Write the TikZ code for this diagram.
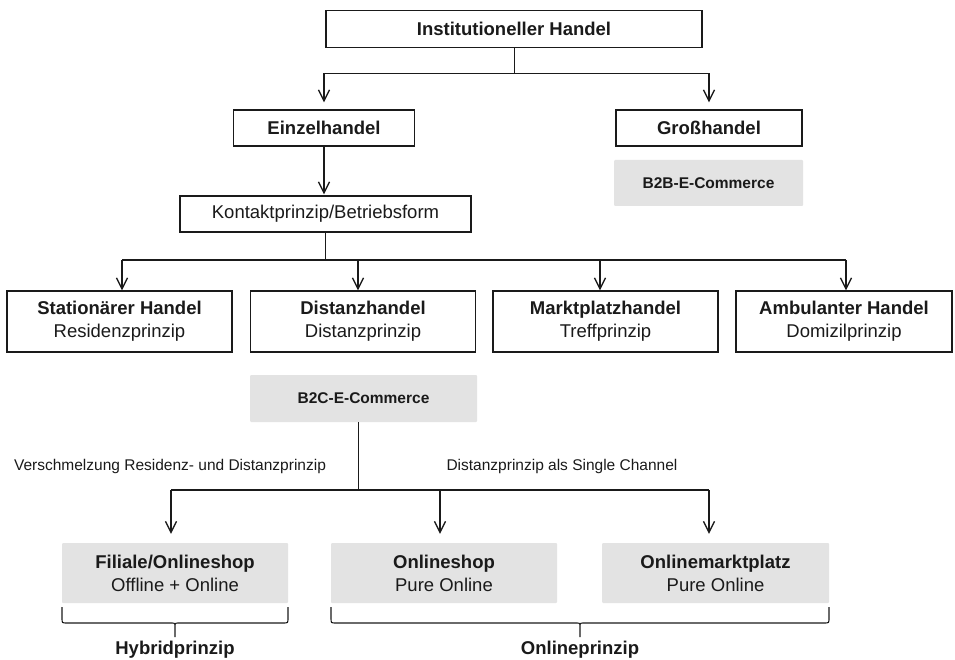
\documentclass[tikz,border=0pt]{standalone}
\usepackage{fontspec}
\setmainfont{Liberation Sans}
\usetikzlibrary{arrows.meta,calc}
\definecolor{boxgray}{HTML}{E3E3E3}
\definecolor{ink}{HTML}{1A1A1A}
\begin{document}
\begin{tikzpicture}[x=1pt,y=-1pt,
  every node/.style={text=ink},
  wbox/.style={draw=ink,line width=1.4pt,fill=white,inner sep=0pt,align=center,
    font=\fontsize{18.5}{23}\selectfont},
  gbox/.style={fill=boxgray,inner sep=0pt,align=center,rounded corners=1pt,
    font=\fontsize{18.5}{23}\selectfont},
  line/.style={draw=ink,line width=0.9pt},
  arr/.style={draw=ink,line width=1.5pt,-{Straight Barb[length=11pt,width=11pt,line width=1.3pt]}},
  lbl/.style={font=\fontsize{15.5}{18}\selectfont,inner sep=0pt},
  brace/.style={draw=ink,line width=1.1pt}
]
\useasboundingbox (0,0) rectangle (955,660);

% top level
\node[wbox,minimum width=376pt,minimum height=37pt] (inst) at (514,29) {\textbf{Institutioneller Handel}};
\node[wbox,minimum width=181pt,minimum height=36pt] (einzel) at (324,128) {\textbf{Einzelhandel}};
\node[wbox,minimum width=186pt,minimum height=36pt] (gross) at (709,128) {\textbf{Großhandel}};
\node[gbox,minimum width=189pt,minimum height=46pt,font=\fontsize{15.5}{18}\selectfont] (b2b) at (708.5,183) {\textbf{B2B-E-Commerce}};

\coordinate (j1) at ($(inst.south)+(0,25)$);
\coordinate (j1l) at (j1 -| einzel);
\coordinate (j1r) at (j1 -| gross);
\draw[line] (inst.south) -- (j1);
\draw[line] (j1l) -- (j1r);
\draw[arr,shorten >=7pt] (j1l) -- (einzel.north);
\draw[arr,shorten >=7pt] (j1r) -- (gross.north);

% contact principle
\node[wbox,minimum width=291pt,minimum height=36pt] (kontakt) at (325.5,214) {Kontaktprinzip/Betriebsform};
\draw[arr,shorten >=1pt] (einzel.south) -- (kontakt.north -| einzel.south);

% operating forms
\node[wbox,minimum width=225pt,minimum height=61pt] (stat) at (119.5,321.5) {\textbf{Stationärer Handel}\\Residenzprinzip};
\node[wbox,minimum width=225pt,minimum height=61pt] (dist) at (363,321.5) {\textbf{Distanzhandel}\\Distanzprinzip};
\node[wbox,minimum width=225pt,minimum height=61pt] (markt) at (605.5,321.5) {\textbf{Marktplatzhandel}\\Treffprinzip};
\node[wbox,minimum width=216pt,minimum height=61pt] (amb) at (844,321.5) {\textbf{Ambulanter Handel}\\Domizilprinzip};

\coordinate (j2) at (kontakt.south |- 0,260);
\coordinate (a1) at (122,260);
\coordinate (a2) at (358,260);
\coordinate (a3) at (600,260);
\coordinate (a4) at (846,260);
\draw[line] (kontakt.south) -- (j2);
\draw[line,line width=1.2pt] (a1) -- (a4);
\draw[arr] (a1) -- (a1 |- stat.north);
\draw[arr] (a2) -- (a2 |- dist.north);
\draw[arr] (a3) -- (a3 |- markt.north);
\draw[arr] (a4) -- (a4 |- amb.north);

% B2C branch
\node[gbox,minimum width=227pt,minimum height=47pt,font=\fontsize{15.5}{18}\selectfont] (b2c) at (363.5,398.5) {\textbf{B2C-E-Commerce}};

\node[gbox,minimum width=226pt,minimum height=60pt] (fil) at (175,573) {\textbf{Filiale/Onlineshop}\\Offline + Online};
\node[gbox,minimum width=226pt,minimum height=60pt] (onl) at (444,573) {\textbf{Onlineshop}\\Pure Online};
\node[gbox,minimum width=227pt,minimum height=60pt] (om) at (715.5,573) {\textbf{Onlinemarktplatz}\\Pure Online};

\coordinate (b0) at (358,422);
\coordinate (b1) at (358,490);
\coordinate (c1) at (171,490);
\coordinate (c2) at (440,490);
\coordinate (c3) at (709,490);
\draw[line] (b0) -- (b1);
\draw[line,line width=1.2pt] (c1) -- (c3);
\draw[arr,shorten >=9pt] (c1) -- (c1 |- fil.north);
\draw[arr,shorten >=9pt] (c2) -- (c2 |- onl.north);
\draw[arr,shorten >=9pt] (c3) -- (c3 |- om.north);

\node[lbl] (lv) at (170,466) {Verschmelzung Residenz- und Distanzprinzip};
\node[lbl] (ld) at (562,466) {Distanzprinzip als Single Channel};

% braces
\draw[brace] (62,607) -- (62,618) .. controls (62,623) .. (67,623) -- (171,623)
  .. controls (175,623) .. (175,627) -- (175,637)
  (175,627) .. controls (175,623) .. (179,623) -- (283,623) .. controls (288,623) .. (288,618) -- (288,607);
\draw[brace] (331,607) -- (331,618) .. controls (331,623) .. (336,623) -- (576,623)
  .. controls (580,623) .. (580,627) -- (580,637)
  (580,627) .. controls (580,623) .. (584,623) -- (824,623) .. controls (829,623) .. (829,618) -- (829,607);

\node[font=\fontsize{18.5}{23}\selectfont\bfseries,inner sep=0pt] (hyb) at (175,650) {Hybridprinzip};
\node[font=\fontsize{18.5}{23}\selectfont\bfseries,inner sep=0pt] (onp) at (580,650) {Onlineprinzip};
\end{tikzpicture}
\end{document}
